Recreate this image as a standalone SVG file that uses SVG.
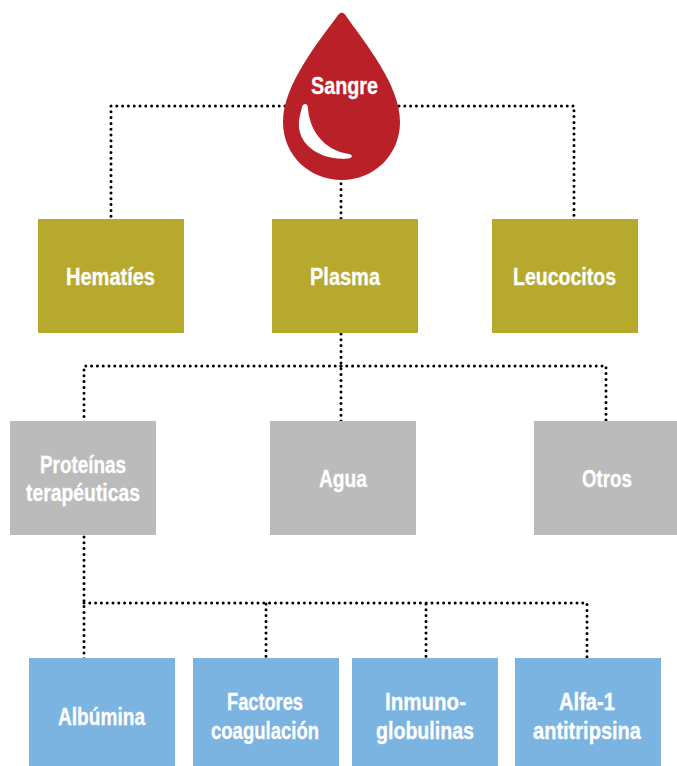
<svg xmlns="http://www.w3.org/2000/svg" width="677" height="766" viewBox="0 0 677 766">
<style>
.c{fill:none;stroke:#000;stroke-width:3;stroke-linecap:round;stroke-dasharray:0 5.8}
.t{font-family:"Liberation Sans",Arial,sans-serif;font-weight:700;font-size:23px;fill:#fff;stroke:#fff;stroke-width:.3;text-anchor:middle}
.o{fill:#b7a92e}.g{fill:#bbbbbb}.b{fill:#7bb4e1}
</style>
<rect width="677" height="766" fill="#fff"/>
<g id="connectors">
<path class="c" d="M285 106H111V225"/>
<path class="c" d="M399 106H574V225"/>
<path class="c" d="M341 178V225"/>
<path class="c" d="M341 334V427"/>
<path class="c" d="M341 366H84V427"/>
<path class="c" d="M341 366H606V427"/>
<path class="c" d="M84 537V664"/>
<path class="c" d="M84 603H587V664"/>
<path class="c" d="M266 604V664"/>
<path class="c" d="M426 604V664"/>
</g>
<g id="sangre">
<path d="M338.500 14.500C340.500 12 343 12 345 14.500C355 29 368 45 380 65C392 85 400 104 400 122C400 155 374 180 342 180C309 180 283 155 283 122C283 104 291 85 303 65C315 45 328 29 338.500 14.500Z" fill="#b92028"/>
<path d="M302 107C303 103 308 103 308 108C309 128 322 150 349 154C353 155 353 158 348 158.500C320 161 297 144 299 122C299 117 301 112 302 107Z" fill="#fff"/>
<text class="t" x="344.500" y="94" textLength="67" lengthAdjust="spacingAndGlyphs">Sangre</text>
</g>
<g id="hematies"><rect class="o" x="38" y="219" width="146" height="114"/><text class="t" x="110.500" y="285" textLength="89" lengthAdjust="spacingAndGlyphs">Hematíes</text></g>
<g id="plasma"><rect class="o" x="272" y="219" width="146" height="114"/><text class="t" x="345" y="285" textLength="70" lengthAdjust="spacingAndGlyphs">Plasma</text></g>
<g id="leucocitos"><rect class="o" x="492" y="219" width="146" height="114"/><text class="t" x="564.500" y="285" textLength="103" lengthAdjust="spacingAndGlyphs">Leucocitos</text></g>
<g id="proteinas"><rect class="g" x="10" y="421" width="146" height="114"/><text class="t" x="83" y="473" textLength="86" lengthAdjust="spacingAndGlyphs">Proteínas</text><text class="t" x="83" y="501" textLength="114" lengthAdjust="spacingAndGlyphs">terapéuticas</text></g>
<g id="agua"><rect class="g" x="270" y="421" width="146" height="114"/><text class="t" x="343" y="487" textLength="48" lengthAdjust="spacingAndGlyphs">Agua</text></g>
<g id="otros"><rect class="g" x="534" y="421" width="143" height="114"/><text class="t" x="607" y="487" textLength="50" lengthAdjust="spacingAndGlyphs">Otros</text></g>
<g id="albumina"><rect class="b" x="29" y="658" width="146" height="108"/><text class="t" x="101.500" y="725" textLength="87" lengthAdjust="spacingAndGlyphs">Albúmina</text></g>
<g id="factores"><rect class="b" x="193" y="658" width="146" height="108"/><text class="t" x="265" y="710" textLength="76" lengthAdjust="spacingAndGlyphs">Factores</text><text class="t" x="265" y="739" textLength="108" lengthAdjust="spacingAndGlyphs">coagulación</text></g>
<g id="inmuno"><rect class="b" x="352" y="658" width="146" height="108"/><text class="t" x="425.500" y="710" textLength="81" lengthAdjust="spacingAndGlyphs">Inmuno-</text><text class="t" x="425" y="739" textLength="98" lengthAdjust="spacingAndGlyphs">globulinas</text></g>
<g id="alfa"><rect class="b" x="515" y="658" width="146" height="108"/><text class="t" x="587" y="710" textLength="56" lengthAdjust="spacingAndGlyphs">Alfa-1</text><text class="t" x="587" y="739" textLength="108" lengthAdjust="spacingAndGlyphs">antitripsina</text></g>
</svg>
